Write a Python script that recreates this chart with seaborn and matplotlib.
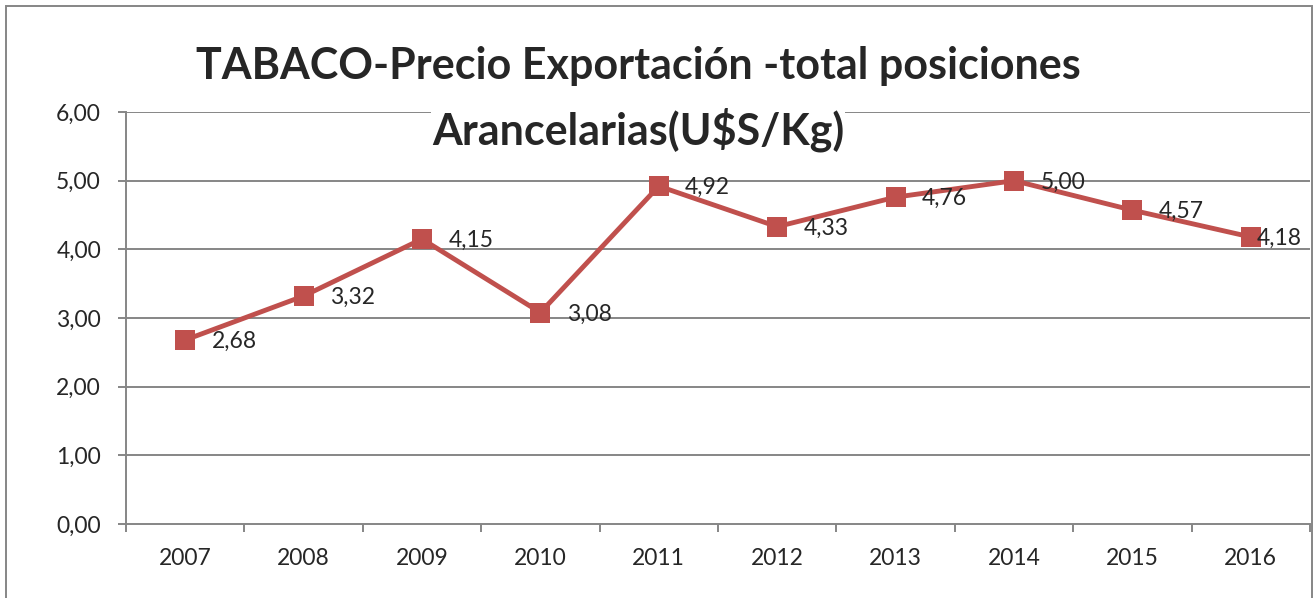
import seaborn as sns
import matplotlib.pyplot as plt
import matplotlib.patches as patches
from matplotlib.ticker import FixedLocator, FuncFormatter
import pandas as pd

# data
anios = ["2007", "2008", "2009", "2010", "2011", "2012", "2013", "2014", "2015", "2016"]
precios = [2.68, 3.32, 4.15, 3.08, 4.92, 4.33, 4.76, 5.00, 4.57, 4.18]
y_ticks = [0, 1, 2, 3, 4, 5, 6]

df = pd.DataFrame({"anio": anios, "precio": precios})

sns.set_style("white")
plt.rcParams["font.family"] = ["Lato", "DejaVu Sans"]

W, H = 1316, 598
fig = plt.figure(figsize=(W / 100, H / 100), dpi=100)
ax = fig.add_axes([126 / W, 1 - 524 / H, (1310 - 126) / W, (524 - 112) / H])

grey = "#868686"
red = "#C0504D"

ax.grid(False)
for y in y_ticks[1:]:
    ax.axhline(y, color=grey, lw=1.4, zorder=1)

sns.lineplot(
    data=df, x="anio", y="precio", ax=ax,
    color=red, lw=3.5, marker="s", markersize=14, markeredgewidth=0,
    zorder=3,
)

ax.set_xlim(-0.5, len(anios) - 0.5)
ax.set_ylim(0, 6)
ax.set_xlabel("")
ax.set_ylabel("")

for side in ["top", "right"]:
    ax.spines[side].set_visible(False)
for side in ["left", "bottom"]:
    ax.spines[side].set_color(grey)
    ax.spines[side].set_linewidth(1.4)

ax.yaxis.set_major_locator(FixedLocator(y_ticks))
ax.yaxis.set_major_formatter(FuncFormatter(lambda v, p: f"{v:.2f}".replace(".", ",")))
ax.tick_params(axis="y", length=6, width=1.4, color=grey, pad=12, labelsize=16.5, left=True)

ax.xaxis.set_minor_locator(FixedLocator([i - 0.5 for i in range(len(anios) + 1)]))
ax.tick_params(axis="x", which="major", length=0, pad=17, labelsize=16.5)
ax.tick_params(axis="x", which="minor", length=6, width=1.4, color=grey, bottom=True)

# data labels to the right of each point
for i, v in enumerate(precios):
    dx = 19 if i < len(precios) - 1 else 4
    ax.annotate(f"{v:.2f}".replace(".", ","), (i, v), xytext=(dx, -1),
                textcoords="offset points", ha="left", va="center",
                fontsize=16.5, zorder=4)

title_kw = dict(ha="center", va="baseline", fontsize=31, fontweight="bold",
                bbox=dict(facecolor="white", edgecolor="none", pad=1), zorder=5)
fig.text(638 / W, 1 - 79 / H, "TABACO-Precio Exportación -total posiciones", **title_kw)
fig.text(638 / W, 1 - 145 / H, "Arancelarias(U$S/Kg)", **title_kw)

# chart border
fig.patches.append(patches.Rectangle(
    (6 / W, -0.02), (1312 - 6) / W, 1.02 - 6 / H, transform=fig.transFigure,
    fill=False, edgecolor=grey, lw=1.4, zorder=0))

fig.savefig("out.png", dpi=100)
